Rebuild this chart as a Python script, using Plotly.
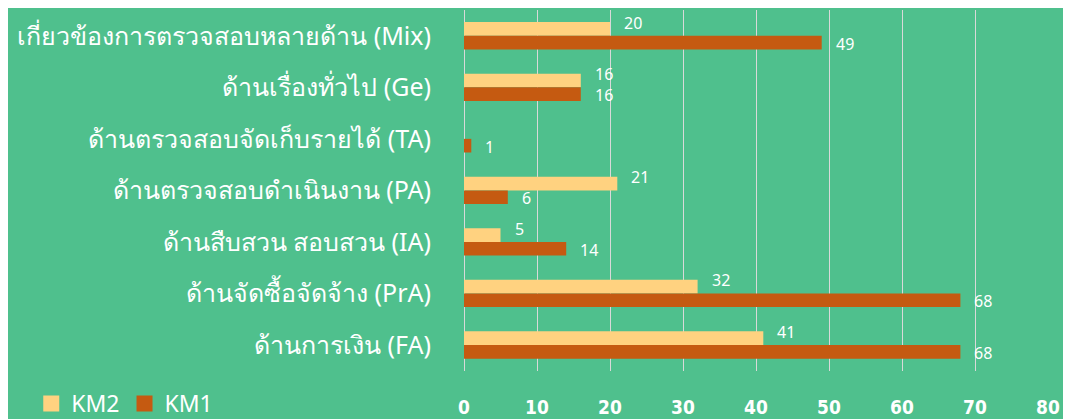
import plotly.graph_objects as go

categories = [
    "เกี่ยวข้องการตรวจสอบหลายด้าน (Mix)",
    "ด้านเรื่องทั่วไป (Ge)",
    "ด้านตรวจสอบจัดเก็บรายได้ (TA)",
    "ด้านตรวจสอบดำเนินงาน (PA)",
    "ด้านสืบสวน สอบสวน (IA)",
    "ด้านจัดซื้อจัดจ้าง (PrA)",
    "ด้านการเงิน (FA)",
]
km2 = [20, 16, None, 21, 5, 32, 41]
km1 = [49, 16, 1, 6, 14, 68, 68]
x_ticks = [0, 10, 20, 30, 40, 50, 60, 70, 80]

BG = "#4FC08D"
C_KM2 = "#FFD280"
C_KM1 = "#C55A11"
FONT = "Noto Sans, DejaVu Sans, sans-serif"
NUMFONT = "DejaVu Sans Condensed, DejaVu Sans, sans-serif"

fig = go.Figure()
fig.add_trace(go.Bar(
    y=categories, x=km2, name="KM2", orientation="h",
    marker=dict(color=C_KM2, line=dict(width=0)), showlegend=False,
))
fig.add_trace(go.Bar(
    y=categories, x=km1, name="KM1", orientation="h",
    marker=dict(color=C_KM1, line=dict(width=0)), showlegend=False,
))
# legend entries (large square swatches)
for name, col in [("KM2", C_KM2), ("KM1", C_KM1)]:
    fig.add_trace(go.Scatter(
        x=[None], y=[None], mode="markers", name=name,
        marker=dict(symbol="square", size=21, color=col),
        showlegend=True,
    ))

# value labels
annotations = []
for cat, v in zip(categories, km2):
    if v is not None:
        annotations.append(dict(x=v, y=cat, xref="x", yref="y", text=str(v),
                                showarrow=False, xanchor="left", yanchor="middle",
                                xshift=12, yshift=13,
                                font=dict(size=16, color="white", family=FONT)))
for cat, v in zip(categories, km1):
    annotations.append(dict(x=v, y=cat, xref="x", yref="y", text=str(v),
                            showarrow=False, xanchor="left", yanchor="middle",
                            xshift=12, yshift=-8,
                            font=dict(size=16, color="white", family=FONT)))

# the page body has an 8px margin, so the figure is sized to end at the window edge
fig.update_layout(
    width=1063, height=411,
    paper_bgcolor=BG, plot_bgcolor=BG,
    margin=dict(l=456, r=23, t=2, b=48, autoexpand=False),
    barmode="group", bargap=0.47, bargroupgap=0.0,
    font=dict(family=FONT, color="white"),
    showlegend=True,
    legend=dict(
        orientation="h", x=-0.741, xanchor="left", y=-0.09, yanchor="middle",
        font=dict(size=23, color="white", family=FONT),
        bgcolor="rgba(0,0,0,0)", itemsizing="trace",
    ),
    annotations=annotations,
    xaxis=dict(
        range=[0, 80], tickvals=x_ticks, showgrid=True,
        gridcolor="#D9D9D9", gridwidth=1, zeroline=True,
        zerolinecolor="#D9D9D9", zerolinewidth=1,
        tickfont=dict(size=19, color="white", family=NUMFONT, weight="bold"),
        ticklabelstandoff=23, showline=False, automargin=False,
    ),
    yaxis=dict(
        autorange="reversed", showgrid=False, zeroline=False,
        tickfont=dict(size=25, color="white", family=FONT),
        ticklabelstandoff=32, automargin=False,
    ),
)

fig.write_html("out.html")
